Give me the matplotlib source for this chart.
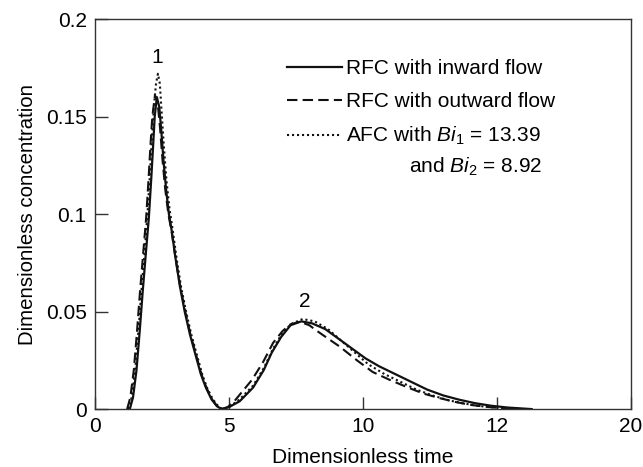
import matplotlib
matplotlib.use("Agg")
import matplotlib.pyplot as plt
import numpy as np

plt.rcParams['font.family'] = ['Liberation Sans', 'DejaVu Sans']
plt.rcParams['mathtext.fontset'] = 'custom'
plt.rcParams['mathtext.rm'] = 'Liberation Sans'
plt.rcParams['mathtext.it'] = 'Liberation Sans:italic'

# RFC with inward flow
t_in = [1.30, 1.42, 1.55, 1.67, 1.78, 1.90, 2.01, 2.10, 2.17, 2.23, 2.31, 2.40, 2.48,
        2.56, 2.66, 2.76, 2.87, 3.00, 3.17, 3.35, 3.55, 3.73, 3.95, 4.14, 4.35, 4.55,
        4.73, 5.00, 5.40, 5.90, 6.30, 6.60, 6.95, 7.30, 7.70, 8.10, 8.60, 9.10, 9.60,
        10.10, 10.60, 11.20, 11.80, 12.40, 13.00, 13.60, 14.20, 14.80, 15.40, 16.30]
c_in = [0.000, 0.006, 0.020, 0.040, 0.060, 0.080, 0.098, 0.118, 0.135, 0.150, 0.160, 0.155, 0.142,
        0.127, 0.112, 0.100, 0.091, 0.078, 0.063, 0.050, 0.038, 0.029, 0.018, 0.011, 0.005, 0.0015,
        0.000, 0.001, 0.004, 0.011, 0.020, 0.029, 0.037, 0.043, 0.045, 0.044, 0.041, 0.036, 0.031,
        0.026, 0.022, 0.018, 0.014, 0.010, 0.007, 0.0048, 0.003, 0.0017, 0.0008, 0.000]

# RFC with outward flow
t_out = [1.20, 1.32, 1.45, 1.57, 1.68, 1.80, 1.91, 2.00, 2.07, 2.14, 2.24, 2.34, 2.43,
         2.52, 2.62, 2.74, 2.86, 3.00, 3.18, 3.37, 3.57, 3.75, 3.97, 4.16, 4.37, 4.56,
         4.72, 4.95, 5.20, 5.50, 5.86, 6.27, 6.65, 7.00, 7.30, 7.65, 8.00, 8.40, 8.77,
         9.14, 9.78, 10.37, 11.00, 11.64, 12.25, 12.87, 13.50, 14.10, 14.80, 15.40, 15.90]
c_out = [0.000, 0.006, 0.020, 0.040, 0.060, 0.080, 0.098, 0.118, 0.135, 0.150, 0.161, 0.157, 0.144,
         0.128, 0.113, 0.100, 0.091, 0.078, 0.063, 0.050, 0.038, 0.029, 0.018, 0.011, 0.005, 0.0015,
         0.000, 0.001, 0.004, 0.009, 0.015, 0.024, 0.034, 0.040, 0.0435, 0.0448, 0.043, 0.039, 0.0355,
         0.032, 0.025, 0.019, 0.015, 0.0113, 0.008, 0.0056, 0.0035, 0.002, 0.0009, 0.0003, 0.000]

# AFC with Bi1 = 13.39 and Bi2 = 8.92
t_afc = [1.25, 1.37, 1.50, 1.62, 1.73, 1.85, 1.96, 2.05, 2.13, 2.21, 2.28, 2.35, 2.42,
         2.49, 2.57, 2.67, 2.78, 2.90, 3.04, 3.21, 3.40, 3.60, 3.78, 4.00, 4.18, 4.40,
         4.60, 4.76, 5.00, 5.40, 5.90, 6.30, 6.65, 6.95, 7.30, 7.75, 8.20, 8.70, 9.20,
         9.70, 10.20, 10.80, 11.40, 12.00, 12.60, 13.20, 13.80, 14.40, 15.00, 15.80]
c_afc = [0.000, 0.006, 0.020, 0.040, 0.060, 0.080, 0.100, 0.120, 0.140, 0.157, 0.167, 0.172, 0.167,
         0.152, 0.135, 0.117, 0.103, 0.092, 0.078, 0.063, 0.050, 0.038, 0.029, 0.018, 0.011, 0.005,
         0.0015, 0.000, 0.001, 0.005, 0.012, 0.021, 0.031, 0.038, 0.0435, 0.0462, 0.045, 0.041, 0.035,
         0.029, 0.023, 0.018, 0.014, 0.010, 0.007, 0.0045, 0.0028, 0.0015, 0.0007, 0.000]

x_ticks = [0, 5, 10, 15, 20]
x_ticklabels = ["0", "5", "10", "12", "20"]
y_ticks = [0, 0.05, 0.1, 0.15, 0.2]
y_ticklabels = ["0", "0.05", "0.1", "0.15", "0.2"]

fig = plt.figure(figsize=(6.43, 4.67), dpi=100)
ax = fig.add_axes([0.1477, 0.124, 0.8333, 0.835])

ax.plot(t_in, c_in, color='#111111', lw=1.6, label='RFC with inward flow')
ax.plot(t_out, c_out, color='#111111', lw=1.5, dashes=(5, 2.5), label='RFC with outward flow')
ax.plot(t_afc, c_afc, color='#111111', lw=1.5, dashes=(1, 1.4), label='AFC with $Bi_1$ = 13.39')

ax.set_xlim(0, 20)
ax.set_ylim(0, 0.2)
ax.set_xticks(x_ticks)
ax.set_xticklabels(x_ticklabels)
ax.set_yticks(y_ticks)
ax.set_yticklabels(y_ticklabels)
ax.tick_params(direction='in', length=9, width=1, labelsize=15, pad=6, color='#333333')

for s in ax.spines.values():
    s.set_linewidth(1.0)
    s.set_color('#333333')

ax.set_xlabel('Dimensionless time', fontsize=15, labelpad=8)
ax.set_ylabel('Dimensionless concentration', fontsize=14.7, labelpad=6)

ax.text(2.31, 0.1805, '1', fontsize=15, ha='center', va='center')
ax.text(7.84, 0.055, '2', fontsize=15, ha='center', va='center')

leg = ax.legend(loc='upper left', bbox_to_anchor=(0.358, 0.897), frameon=False,
                fontsize=15, handlelength=2.65, handletextpad=0.2,
                borderpad=0, borderaxespad=0, labelspacing=0.66)
ax.text(0.834, 0.62, 'and $Bi_2$ = 8.92', transform=ax.transAxes,
        fontsize=15, ha='right', va='center')

fig.savefig('out.png', dpi=100)
